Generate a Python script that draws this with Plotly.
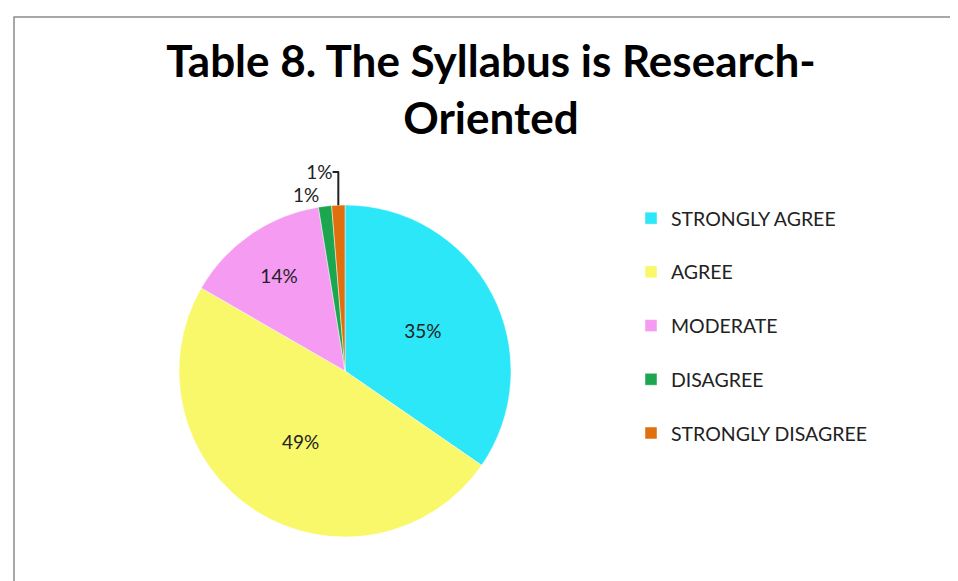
import plotly.graph_objects as go

categories = ["STRONGLY AGREE", "AGREE", "MODERATE", "DISAGREE", "STRONGLY DISAGREE"]
counts = [27, 38, 11, 1, 1]
colors = ["#2BE7F7", "#F8F86A", "#F59CF2", "#1DA650", "#E0700E"]
title_text = "Table 8. The Syllabus is Research-<br>Oriented"

W, H = 958, 581
cx, cy, r = 337, 363, 166

legend_labels = [c + "<br>&nbsp;" for c in categories]

fig = go.Figure(go.Pie(
    labels=legend_labels,
    values=counts,
    sort=False,
    direction="clockwise",
    rotation=0,
    marker=dict(colors=colors, line=dict(color="rgba(255,255,255,0.6)", width=0.8)),
    texttemplate="%{percent:.0%}",
    textposition=["inside", "inside", "inside", "outside", "outside"],
    insidetextorientation="horizontal",
    textfont=dict(family="Lato", size=19, color="#222222"),
    hovertext=categories,
    hoverinfo="text+percent",
    domain=dict(x=[(cx - r) / W, (cx + r) / W], y=[(H - cy - r) / H, (H - cy + r) / H]),
))

fig.update_layout(
    width=W, height=H,
    margin=dict(l=0, r=0, t=0, b=0),
    paper_bgcolor="white",
    title=dict(text=title_text, x=483 / W, xanchor="center", y=1 - 69 / H, yanchor="top",
               font=dict(family="Lato", size=44, color="black", weight="bold")),
    legend=dict(x=623 / W, xanchor="left", y=1 - 191 / H, yanchor="top",
                font=dict(family="Lato", size=19.5, color="#222222"), valign="top",
                bgcolor="rgba(0,0,0,0)"),
    shapes=[dict(type="rect", xref="paper", yref="paper", x0=6 / W, x1=1.02, y0=-0.02, y1=1 - 9 / H,
                 line=dict(color="#8C8C8C", width=1.5), fillcolor="rgba(0,0,0,0)", layer="below")],
)

fig.write_html("out.html")
